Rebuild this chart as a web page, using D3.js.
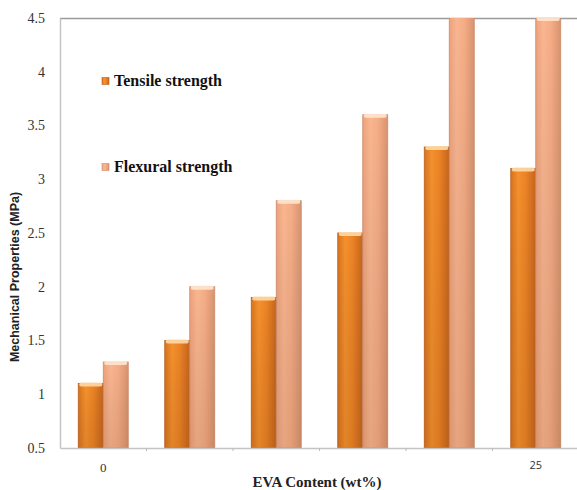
<!DOCTYPE html>
<html>
<head>
<meta charset="utf-8">
<script src="https://cdn.jsdelivr.net/npm/d3@7"></script>
<style>
  html, body { margin: 0; padding: 0; background: #fff; }
  svg { display: block; }
</style>
</head>
<body>
<svg id="chart" width="577" height="490"></svg>
<script>
// EVA content groups and measured strengths (MPa)
const categories = ["0", "5", "10", "15", "20", "25"];
const categoryLabels = ["0", "", "", "", "", "25"];
const seriesNames = ["Tensile strength", "Flexural strength"];
const tensile = [1.1, 1.5, 1.9, 2.5, 3.3, 3.1];
const flexural = [1.3, 2.0, 2.8, 3.6, 4.6, 4.5];
const yTicks = [0.5, 1, 1.5, 2, 2.5, 3, 3.5, 4, 4.5];

const svg = d3.select("#chart");
const margin = { left: 60, top: 18, right: -2, bottom: 42 };
const W = 577, H = 490;
const plotRight = W - margin.right;
const plotBottom = H - margin.bottom;

const x = d3.scaleBand().domain(categories).range([margin.left, plotRight]).padding(0);
const sub = d3.scaleBand().domain(seriesNames).range([0, x.bandwidth()]).paddingInner(0).paddingOuter(0.73);
const y = d3.scaleLinear().domain([0.5, 4.5]).range([plotBottom, margin.top]);

const defs = svg.append("defs");
function cylGrad(id, edgeL, mid, light, edgeR) {
  const g = defs.append("linearGradient").attr("id", id).attr("x1", 0).attr("x2", 1).attr("y1", 0).attr("y2", 0);
  g.append("stop").attr("offset", "0%").attr("stop-color", edgeL);
  g.append("stop").attr("offset", "30%").attr("stop-color", light);
  g.append("stop").attr("offset", "60%").attr("stop-color", mid);
  g.append("stop").attr("offset", "100%").attr("stop-color", edgeR);
}
cylGrad("gradT", "#d8731f", "#ec8326", "#f5912d", "#c4651c");
cylGrad("gradF", "#eea27c", "#f5ad86", "#f9b690", "#d89470");
// slight darkening towards the base of each bar
const shade = defs.append("linearGradient").attr("id", "shade").attr("x1", 0).attr("x2", 0).attr("y1", 0).attr("y2", 1);
shade.append("stop").attr("offset", "0%").attr("stop-color", "#000").attr("stop-opacity", 0);
shade.append("stop").attr("offset", "100%").attr("stop-color", "#5a2a00").attr("stop-opacity", 0.12);

defs.append("clipPath").attr("id", "plotClip").append("rect")
  .attr("x", margin.left).attr("y", margin.top)
  .attr("width", plotRight - margin.left).attr("height", plotBottom - margin.top);

// top frame line
svg.append("line").attr("x1", margin.left).attr("x2", W).attr("y1", margin.top + 0.5).attr("y2", margin.top + 0.5)
  .attr("stroke", "#9a9a9a").attr("stroke-width", 1.5);

const series = [
  { name: seriesNames[0], values: tensile, fill: "url(#gradT)", stroke: "#b8611f", cap: "#ffd9a6" },
  { name: seriesNames[1], values: flexural, fill: "url(#gradF)", stroke: "#c98d6c", cap: "#ffe6d0" }
];

const plot = svg.append("g").attr("clip-path", "url(#plotClip)");
series.forEach(s => {
  const g = plot.append("g");
  categories.forEach((c, i) => {
    const bx = x(c) + sub(s.name);
    const bw = sub.bandwidth();
    const top = y(s.values[i]);
    g.append("rect").attr("x", bx).attr("y", top).attr("width", bw).attr("height", plotBottom - top)
      .attr("fill", s.fill).attr("stroke", s.stroke).attr("stroke-width", 0.8);
    g.append("rect").attr("x", bx).attr("y", top).attr("width", bw).attr("height", plotBottom - top)
      .attr("fill", "url(#shade)");
    g.append("rect").attr("x", bx + 1).attr("y", top - 1).attr("width", bw - 2).attr("height", 4)
      .attr("rx", 2).attr("fill", s.cap).attr("opacity", 0.9);
  });
});

// y axis
const yAxis = d3.axisLeft(y).tickValues(yTicks).tickSize(0).tickPadding(15).tickFormat(d3.format("~g"));
const gy = svg.append("g").attr("transform", `translate(${margin.left},0)`).call(yAxis);
gy.select(".domain").attr("stroke", "#c4c4c4").attr("stroke-width", 1.5);
gy.selectAll("text").attr("font-family", "Liberation Serif, Times New Roman, serif")
  .attr("font-size", 14).attr("fill", "#333");

// x axis
const xAxis = d3.axisBottom(x).tickSize(0).tickFormat((d, i) => categoryLabels[i]);
const gx = svg.append("g").attr("transform", `translate(0,${plotBottom})`).call(xAxis);
gx.select(".domain").attr("stroke", "#c4c4c4").attr("stroke-width", 1.5);
gx.selectAll(".tick text").attr("dy", "1.6em").attr("fill", "#333")
  .attr("font-family", (d, i) => i === 0 ? "Liberation Serif, serif" : "Open Sans, sans-serif")
  .attr("font-size", (d, i) => i === 0 ? 13 : 11);
// tick marks at group boundaries
gx.selectAll(".sep").data(categories.slice(1)).enter().append("line")
  .attr("x1", d => x(d)).attr("x2", d => x(d)).attr("y1", 0).attr("y2", 3)
  .attr("stroke", "#bdbdbd");

// axis titles
svg.append("text").attr("x", 317).attr("y", 487).attr("text-anchor", "middle")
  .attr("font-family", "Liberation Serif, Times New Roman, serif").attr("font-weight", "bold")
  .attr("font-size", 15).attr("fill", "#222").text("EVA Content (wt%)");
svg.append("text").attr("transform", "translate(19,277) rotate(-90)").attr("text-anchor", "middle")
  .attr("font-family", "Liberation Sans, Arial, sans-serif").attr("font-weight", "bold")
  .attr("font-size", 12.5).attr("fill", "#222").text("Mechanical Properties (MPa)");

// legend
const legendY = [81, 167];
series.forEach((s, i) => {
  const lg = svg.append("g").attr("transform", `translate(102,${legendY[i]})`);
  lg.append("rect").attr("x", 0).attr("y", -3.5).attr("width", 7).attr("height", 7)
    .attr("fill", s.fill).attr("stroke", s.stroke).attr("stroke-width", 0.6);
  lg.append("text").attr("x", 12).attr("y", 5)
    .attr("font-family", "Liberation Serif, Times New Roman, serif").attr("font-weight", "bold")
    .attr("font-size", 16).attr("fill", "#111").text(s.name);
});
</script>
</body>
</html>
